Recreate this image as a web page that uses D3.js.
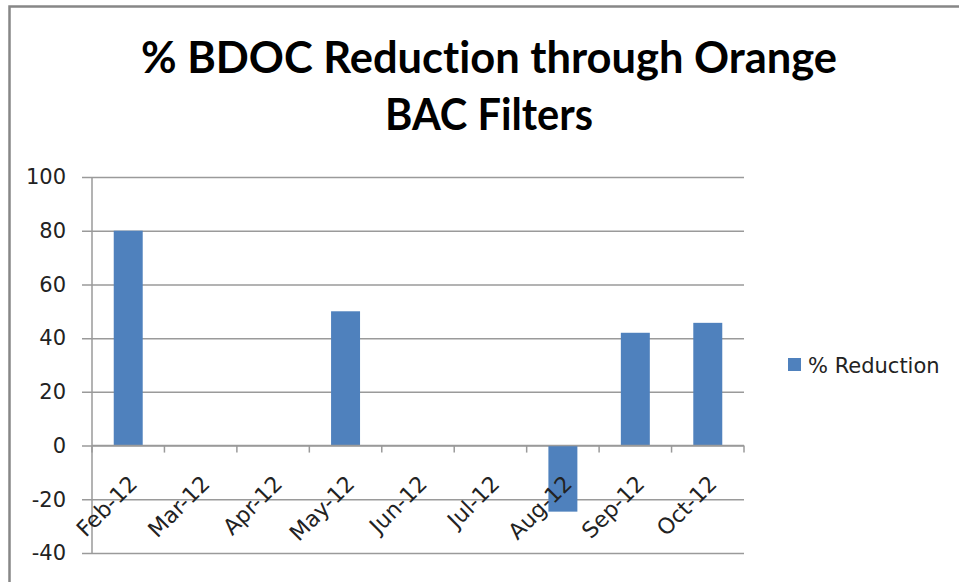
<!DOCTYPE html>
<html>
<head>
<meta charset="utf-8">
<script src="https://cdn.jsdelivr.net/npm/d3@7"></script>
<style>
  body { margin: 0; background: #fff; }
  svg { display: block; }
</style>
</head>
<body>
<svg width="959" height="582"></svg>
<script>
var months = ["Feb-12", "Mar-12", "Apr-12", "May-12", "Jun-12", "Jul-12", "Aug-12", "Sep-12", "Oct-12"];
var reduction = [80, null, null, 50, null, null, -24.6, 42, 45.7];
var yTicks = [-40, -20, 0, 20, 40, 60, 80, 100];
var titleLines = ["% BDOC Reduction through Orange", "BAC Filters"];
var seriesName = "% Reduction";

var svg = d3.select("svg");

var plotLeft = 92, plotRight = 744, plotTop = 177, plotBottom = 553;

// outer chart frame
svg.append("rect")
    .attr("x", 9.5).attr("y", 6.5)
    .attr("width", 1000).attr("height", 1000)
    .attr("fill", "none")
    .attr("stroke", "#878787")
    .attr("stroke-width", 2.5);

// title
var titleWidths = [696, 208];
svg.selectAll(".title")
    .data(titleLines)
    .enter().append("text")
    .attr("class", "title")
    .attr("x", 489)
    .attr("y", function(d, i) { return 73 + i * 57; })
    .attr("text-anchor", "middle")
    .attr("textLength", function(d, i) { return titleWidths[i]; })
    .attr("lengthAdjust", "spacingAndGlyphs")
    .style("font-family", "Lato, 'Open Sans', sans-serif")
    .style("font-weight", "bold")
    .style("font-size", "43px")
    .style("font-variant-ligatures", "none")
    .text(function(d) { return d; });

var x = d3.scaleBand()
    .domain(months)
    .range([plotLeft, plotRight])
    .paddingInner(0.6)
    .paddingOuter(0.3);

var y = d3.scaleLinear()
    .domain([-40, 100])
    .range([plotBottom, plotTop]);

// gridlines + y axis labels (plain hyphen for negatives, as in the original)
var yAxis = d3.axisLeft(y)
    .tickValues(yTicks)
    .tickSize(0)
    .tickPadding(26)
    .tickFormat(function(d) { return String(d); });

var gy = svg.append("g")
    .attr("transform", "translate(" + plotLeft + ",0)")
    .call(yAxis);
gy.select(".domain").remove();
gy.selectAll(".tick line")
    .attr("x1", -10).attr("x2", plotRight - plotLeft)
    .attr("stroke", "#9a9a9a")
    .attr("stroke-width", 1.5);
gy.selectAll(".tick text")
    .style("font-family", "'DejaVu Sans', sans-serif")
    .style("font-size", "21px")
    .attr("fill", "#222");

// y axis line
svg.append("line")
    .attr("x1", plotLeft).attr("x2", plotLeft)
    .attr("y1", plotTop).attr("y2", plotBottom)
    .attr("stroke", "#9a9a9a")
    .attr("stroke-width", 1.5);

// bars
var data = months.map(function(m, i) { return { month: m, value: reduction[i] }; })
    .filter(function(d) { return d.value !== null; });

svg.selectAll(".bar")
    .data(data)
    .enter().append("rect")
    .attr("class", "bar")
    .attr("x", function(d) { return x(d.month); })
    .attr("width", x.bandwidth())
    .attr("y", function(d) { return y(Math.max(0, d.value)); })
    .attr("height", function(d) { return Math.abs(y(d.value) - y(0)); })
    .attr("fill", "#4f81bd");

// category axis along zero
var y0 = y(0);
var edges = months.map(function(m) { return x(m) - x.step() * x.paddingInner() / 2; });
edges[0] = plotLeft;
edges.push(plotRight);

svg.append("line")
    .attr("x1", plotLeft).attr("x2", plotRight)
    .attr("y1", y0).attr("y2", y0)
    .attr("stroke", "#9a9a9a")
    .attr("stroke-width", 1.5);

svg.selectAll(".xtick")
    .data(edges)
    .enter().append("line")
    .attr("class", "xtick")
    .attr("x1", function(d) { return d; }).attr("x2", function(d) { return d; })
    .attr("y1", y0).attr("y2", y0 + 7)
    .attr("stroke", "#9a9a9a")
    .attr("stroke-width", 1.5);

svg.selectAll(".xlabel")
    .data(months)
    .enter().append("text")
    .attr("class", "xlabel")
    .attr("transform", function(d) {
        return "translate(" + (x(d) + x.bandwidth() / 2 + 5) + "," + (y0 + 34) + ") rotate(-45)";
    })
    .attr("text-anchor", "end")
    .attr("dy", "0.35em")
    .style("font-family", "'DejaVu Sans', sans-serif")
    .style("font-size", "22px")
    .attr("fill", "#222")
    .text(function(d) { return d; });

// legend
var legend = svg.append("g")
    .attr("transform", "translate(788,358)");
legend.append("rect")
    .attr("width", 13).attr("height", 13)
    .attr("fill", "#4f81bd");
legend.append("text")
    .attr("x", 20).attr("y", 15)
    .style("font-family", "'DejaVu Sans', sans-serif")
    .style("font-size", "21px")
    .attr("fill", "#222")
    .text(seriesName);
</script>
</body>
</html>
